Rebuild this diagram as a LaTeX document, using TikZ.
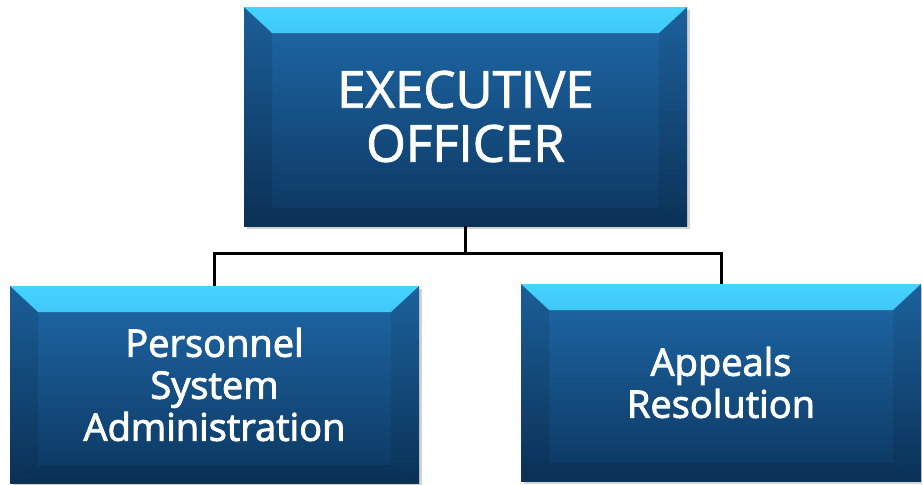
\documentclass[tikz,border=0pt]{standalone}
\usepackage{fontspec}
\setmainfont{Open Sans}
\usetikzlibrary{calc,shadows}
\newcommand{\heavytext}[1]{\special{pdf:literal direct 2 Tr 0.9 w 1 1 1 RG}#1\special{pdf:literal direct 0 Tr}}
\definecolor{bevelTop}{HTML}{45D4FF}
\definecolor{bevelBot}{HTML}{2274B8}
\definecolor{faceTop}{HTML}{1F6AAA}
\definecolor{faceMid}{HTML}{25578A}
\definecolor{faceBot}{HTML}{0C365F}
\tikzset{
  bevelbox/.style={rectangle, inner sep=0pt, text=white, align=center,
    top color=faceTop, middle color=faceMid, bottom color=faceBot,
    drop shadow={shadow xshift=2.5pt, shadow yshift=-3pt, opacity=.25, fill=black!70},
    path picture={
      \path let \p1=(path picture bounding box.north west),
                \p2=(path picture bounding box.south east) in
        [top color=bevelTop, bottom color=bevelBot]
        (\x1,\y1) -- (\x2,\y1) -- (\x2-28pt,\y1-26pt) -- (\x1+28pt,\y1-26pt) -- cycle;
      \path let \p1=(path picture bounding box.north west),
                \p2=(path picture bounding box.south east) in
        [fill=black, fill opacity=.10]
        (\x1,\y1) -- (\x1+28pt,\y1-26pt) -- (\x1+28pt,\y2+18pt) -- (\x1,\y2) -- cycle;
      \path let \p1=(path picture bounding box.north west),
                \p2=(path picture bounding box.south east) in
        [fill=black, fill opacity=.08]
        (\x2,\y1) -- (\x2-28pt,\y1-26pt) -- (\x2-28pt,\y2+18pt) -- (\x2,\y2) -- cycle;
      \path let \p1=(path picture bounding box.north west),
                \p2=(path picture bounding box.south east) in
        [fill=black, fill opacity=.10]
        (\x1,\y2) -- (\x1+28pt,\y2+18pt) -- (\x2-28pt,\y2+18pt) -- (\x2,\y2) -- cycle;
    }},
  bigtext/.style={font=\fontsize{51}{54}\selectfont},
  smalltext/.style={font=\fontsize{38}{42}\selectfont},
  conn/.style={draw=black, line width=3pt}
}
\begin{document}
\begin{tikzpicture}[x=1pt,y=-1pt]
\useasboundingbox[fill=white] (0,0) rectangle (922,485);
\node[bevelbox, bigtext, minimum width=443pt, minimum height=219pt] (exec) at (465.5,116.5) {\heavytext{EXECUTIVE}\\\heavytext{OFFICER}};
\node[bevelbox, smalltext, minimum width=409pt, minimum height=197pt] (pers) at (214.5,384.5) {\heavytext{Personnel}\\\heavytext{System}\\\heavytext{Administration}};
\node[bevelbox, smalltext, minimum width=400pt, minimum height=197pt] (app) at (721,382.5) {\heavytext{Appeals}\\\heavytext{Resolution}};
\draw[conn] (exec.south) -- ++(0,27) coordinate (bus) -| (pers.north);
\draw[conn] (bus) -| (app.north);
\end{tikzpicture}
\end{document}
